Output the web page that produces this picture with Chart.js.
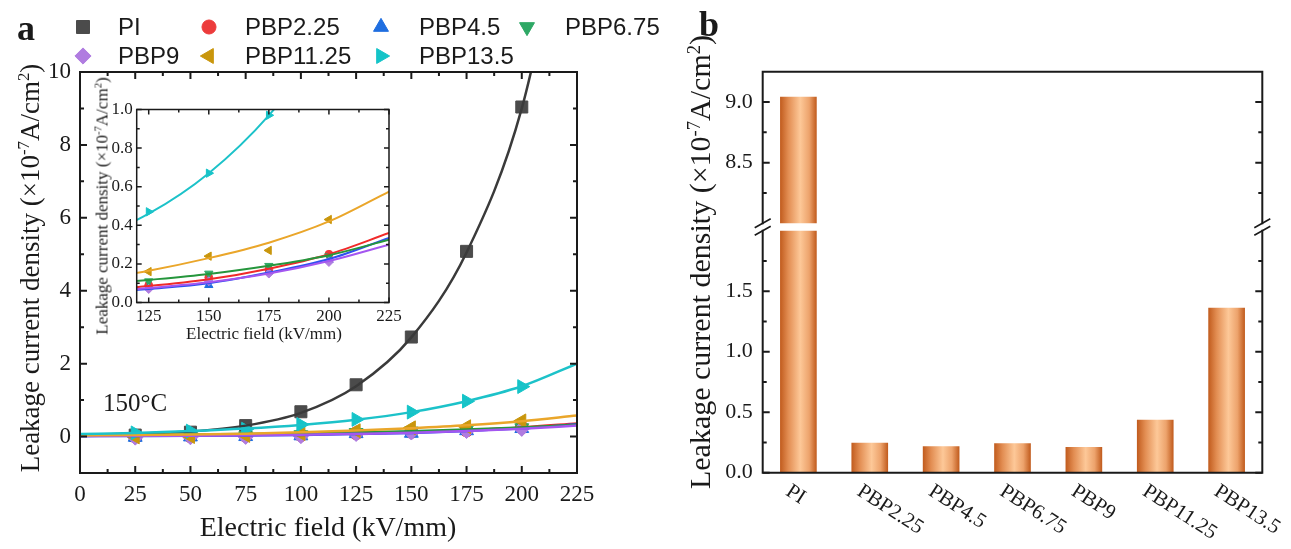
<!DOCTYPE html>
<html>
<head>
<meta charset="utf-8">
<script src="https://cdn.jsdelivr.net/npm/chart.js@4.4.1/dist/chart.umd.min.js"></script>
<style>
  body { margin: 0; background: #fff; }
  #wrap { position: relative; width: 1291px; height: 549px; overflow: hidden;
          font-family: "Liberation Serif", "Times New Roman", serif; color: #1a1a1a; }
  canvas { position: absolute; }
  .txt { position: absolute; white-space: nowrap; line-height: 1; }
  .ctr { transform: translate(-50%, -50%); }
  .rot { transform: translate(-50%, -50%) rotate(-90deg); }
  sup { font-size: 0.62em; vertical-align: 0.55em; line-height: 0; }
</style>
</head>
<body>
<div id="wrap">
  <canvas id="main" width="680" height="549" style="left:0;top:0"></canvas>
  <canvas id="inset" width="330" height="250" style="left:85px;top:95px"></canvas>
  <canvas id="barTop" width="611" height="260" style="left:680px;top:0"></canvas>
  <canvas id="barBottom" width="611" height="359" style="left:680px;top:190px"></canvas>

  <div class="txt" style="left:17px;top:10px;font-size:36px;font-weight:bold">a</div>
  <div class="txt" style="left:699px;top:6px;font-size:36px;font-weight:bold">b</div>

  <div class="txt rot" style="left:30px;top:268px;font-size:27px">Leakage current density (×10<sup>-7</sup>A/cm<sup>2</sup>)</div>
  <div class="txt ctr" style="left:328px;top:527px;font-size:28px">Electric field (kV/mm)</div>
  <div class="txt ctr" style="left:135px;top:402px;font-size:25px">150°C</div>

  <div class="txt rot" style="left:102px;top:206px;font-size:17px">Leakage current density (×10<sup>-7</sup>A/cm<sup>2</sup>)</div>
  <div class="txt ctr" style="left:264px;top:333px;font-size:17px">Electric field (kV/mm)</div>

  <div class="txt rot" style="left:700px;top:262px;font-size:30px">Leakage current density (×10<sup>-7</sup>A/cm<sup>2</sup>)</div>
</div>

<script>
// ---- data (leakage current density, x10^-7 A/cm2, 150 °C) ----
const samples = ['PI', 'PBP2.25', 'PBP4.5', 'PBP6.75', 'PBP9', 'PBP11.25', 'PBP13.5'];
const fieldKV = [25, 50, 75, 100, 125, 150, 175, 200];
const fitKV = [0, 25, 50, 75, 100, 125, 150, 175, 200, 225];

const jPI      = [0.04, 0.12, 0.30, 0.68, 1.42, 2.73, 5.08, 9.04];
const jPBP225  = [0.00, 0.01, 0.02, 0.04, 0.09, 0.13, 0.17, 0.25];
const jPBP45   = [-0.02, -0.01, 0.00, 0.02, 0.08, 0.09, 0.16, 0.22];
const jPBP675  = [0.00, 0.01, 0.02, 0.05, 0.11, 0.15, 0.19, 0.24];
const jPBP9    = [-0.03, -0.02, -0.01, 0.01, 0.07, 0.11, 0.15, 0.21];
const jPBP1125 = [-0.01, 0.00, 0.03, 0.08, 0.16, 0.24, 0.27, 0.43];
const jPBP135  = [0.10, 0.15, 0.20, 0.33, 0.47, 0.67, 0.97, 1.37];

// fitted curves at fitKV
const fitPI      = [0.06, 0.08, 0.14, 0.30, 0.65, 1.38, 2.72, 5.05, 9.00, 16.0];
const fitPBP225  = [0.02, 0.025, 0.03, 0.045, 0.06, 0.085, 0.12, 0.175, 0.25, 0.36];
const fitPBP45   = [0.01, 0.015, 0.02, 0.03, 0.045, 0.07, 0.10, 0.155, 0.225, 0.335];
const fitPBP675  = [0.04, 0.045, 0.055, 0.07, 0.09, 0.117, 0.148, 0.19, 0.245, 0.325];
const fitPBP9    = [0.015, 0.02, 0.025, 0.035, 0.05, 0.075, 0.105, 0.15, 0.215, 0.30];
const fitPBP1125 = [0.03, 0.04, 0.055, 0.08, 0.115, 0.165, 0.23, 0.31, 0.42, 0.575];
const fitPBP135  = [0.07, 0.10, 0.15, 0.22, 0.32, 0.46, 0.67, 0.97, 1.38, 2.00];

// panel b: value at 200 kV/mm
const jAt200 = [9.04, 0.245, 0.215, 0.24, 0.21, 0.435, 1.36];

// tick values
const mainXTicks = [0, 25, 50, 75, 100, 125, 150, 175, 200, 225];
const mainXMinor = [12.5, 37.5, 62.5, 87.5, 112.5, 137.5, 162.5, 187.5, 212.5];
const mainYTicks = [0, 2, 4, 6, 8, 10];
const mainYMinor = [1, 3, 5, 7, 9];
const insetXTicks = [125, 150, 175, 200, 225];
const insetXMinor = [137.5, 162.5, 187.5, 212.5];
const insetYTicks = [0, 0.2, 0.4, 0.6, 0.8, 1.0];
const insetYMinor = [0.1, 0.3, 0.5, 0.7, 0.9];
const barTopTicks = [8.5, 9.0];
const barTopMinor = [8.25, 8.75];
const barBottomTicks = [0, 0.5, 1.0, 1.5];
const barBottomMinor = [0.25, 0.75, 1.25, 1.75];

const measured = [jPI, jPBP225, jPBP45, jPBP675, jPBP9, jPBP1125, jPBP135];
const fitted = [fitPI, fitPBP225, fitPBP45, fitPBP675, fitPBP9, fitPBP1125, fitPBP135];

// ---- styles ----
const markerColors = ['#4b4b4b', '#ec3b3b', '#1f6ee0', '#2ea865', '#b07ce0', '#c9960c', '#14c4c8'];
const lineColors = ['#3a3a3a', '#f02a2a', '#2f50f0', '#25963c', '#a456f0', '#eaa62a', '#1cc2c9'];
const markerShapes = [
  { style: 'rect', rot: 0, r: 8.5 },
  { style: 'circle', rot: 0, r: 6.5 },
  { style: 'triangle', rot: 0, r: 8 },
  { style: 'triangle', rot: 180, r: 8 },
  { style: 'rectRot', rot: 0, r: 7.5 },
  { style: 'triangle', rot: -90, r: 8 },
  { style: 'triangle', rot: 90, r: 8 }
];
const legendMarkX = [83, 209, 381, 527, 83, 209, 381];
const legendTextX = [118, 245, 419, 565, 118, 245, 419];
const legendRowY = [27, 27, 27, 27, 56, 56, 56];

const SERIF = '"Liberation Serif", "Times New Roman", serif';
const INK = '#1a1a1a';
Chart.defaults.font.family = SERIF;
Chart.defaults.color = INK;

// frame with inward ticks, like the origin plots
const framePlugin = {
  id: 'frame',
  afterDatasetsDraw(chart, args, o) {
    const { ctx, chartArea: a } = chart;
    const xs = chart.scales.x, ys = chart.scales.y;
    ctx.save();
    ctx.strokeStyle = INK;
    ctx.lineWidth = o.width;
    ctx.lineCap = 'square';
    ctx.beginPath();
    const edges = o.edges || [];
    if (edges.includes('top')) { ctx.moveTo(a.left, a.top); ctx.lineTo(a.right, a.top); }
    if (edges.includes('bottom')) { ctx.moveTo(a.left, a.bottom); ctx.lineTo(a.right, a.bottom); }
    if (edges.includes('left')) { ctx.moveTo(a.left, a.top); ctx.lineTo(a.left, a.bottom); }
    if (edges.includes('right')) { ctx.moveTo(a.right, a.top); ctx.lineTo(a.right, a.bottom); }
    ctx.stroke();

    ctx.lineCap = 'butt';
    ctx.beginPath();
    const yt = (v, len) => {
      const p = ys.getPixelForValue(v);
      ctx.moveTo(a.left, p); ctx.lineTo(a.left + len, p);
      ctx.moveTo(a.right, p); ctx.lineTo(a.right - len, p);
    };
    const xt = (v, len) => {
      const p = xs.getPixelForValue(v);
      ctx.moveTo(p, a.bottom); ctx.lineTo(p, a.bottom - len);
      ctx.moveTo(p, a.top); ctx.lineTo(p, a.top + len);
    };
    ys.ticks.forEach(t => yt(t.value, o.major));
    (o.yMinor || []).forEach(v => yt(v, o.minor));
    if (o.xTicks) {
      xs.ticks.forEach(t => xt(t.value, o.major));
      (o.xMinor || []).forEach(v => xt(v, o.minor));
    }
    ctx.stroke();

    // axis break marks
    if (o.breakAt) {
      const yb = a.top - o.breakAt;
      ctx.lineWidth = 1.6;
      ctx.beginPath();
      [a.left, a.right].forEach(x => {
        [yb, a.top].forEach(y => {
          ctx.moveTo(x - 8, y + 4.5);
          ctx.lineTo(x + 8, y - 4.5);
        });
      });
      ctx.stroke();
    }
    ctx.restore();
  }
};

const sampleLegend = {
  id: 'sampleLegend',
  afterDraw(chart) {
    const ctx = chart.ctx;
    ctx.save();
    ctx.font = '24px "Liberation Sans", Arial, sans-serif';
    ctx.textBaseline = 'middle';
    ctx.textAlign = 'left';
    samples.forEach((name, i) => {
      const s = markerShapes[i];
      ctx.fillStyle = markerColors[i];
      ctx.strokeStyle = markerColors[i];
      Chart.helpers.drawPoint(ctx, {
        pointStyle: s.style, rotation: s.rot, radius: s.r * 1.08, borderWidth: 1
      }, legendMarkX[i], legendRowY[i]);
      ctx.fillStyle = INK;
      ctx.fillText(name, legendTextX[i], legendRowY[i] + 1);
    });
    ctx.restore();
  }
};

const slantLabels = {
  id: 'slantLabels',
  afterDraw(chart) {
    const { ctx, chartArea: a } = chart;
    const xs = chart.scales.x;
    ctx.save();
    ctx.font = '21px ' + SERIF;
    ctx.fillStyle = INK;
    ctx.textAlign = 'left';
    ctx.textBaseline = 'top';
    chart.data.labels.forEach((t, i) => {
      ctx.save();
      ctx.translate(xs.getPixelForValue(i) - 5, a.bottom + 8);
      ctx.rotate(33 * Math.PI / 180);
      ctx.fillText(t, 0, 0);
      ctx.restore();
    });
    ctx.restore();
  }
};

function seriesSets(lineW, markScale) {
  const lines = [], marks = [];
  samples.forEach((name, i) => {
    const s = markerShapes[i];
    lines.push({
      label: name + ' fit',
      data: fitKV.map((x, k) => ({ x, y: fitted[i][k] })),
      showLine: true,
      borderColor: lineColors[i],
      borderWidth: lineW,
      pointRadius: 0,
      cubicInterpolationMode: 'monotone',
      clip: 0
    });
    marks.push({
      label: name,
      data: fieldKV.map((x, k) => ({ x, y: measured[i][k] })),
      showLine: false,
      pointStyle: s.style,
      pointRotation: s.rot,
      pointRadius: s.r * markScale,
      backgroundColor: markerColors[i],
      borderColor: markerColors[i],
      borderWidth: 1
    });
  });
  return lines.reverse().concat(marks.reverse());
}

function fixedTicks(values) {
  return scale => { scale.ticks = values.map(v => ({ value: v })); };
}

const noGrid = { display: false, drawTicks: false };
const baseOpts = {
  responsive: false,
  animation: false,
  events: [],
  plugins: { legend: { display: false }, tooltip: { enabled: false } }
};

// ---- panel a ----
new Chart(document.getElementById('main'), {
  type: 'scatter',
  data: { datasets: seriesSets(2.5, 1) },
  plugins: [framePlugin, sampleLegend],
  options: {
    ...baseOpts,
    layout: { padding: { left: 0, top: 72, right: 103, bottom: 36 } },
    plugins: {
      ...baseOpts.plugins,
      frame: { width: 2, major: 7, minor: 4, edges: ['top', 'bottom', 'left', 'right'],
               xTicks: true, xMinor: mainXMinor, yMinor: mainYMinor }
    },
    scales: {
      x: {
        type: 'linear', min: 0, max: 225,
        grid: noGrid, border: { display: false },
        afterBuildTicks: fixedTicks(mainXTicks),
        afterFit: s => { s.height = 40; },
        ticks: { font: { size: 23 }, padding: 8, maxRotation: 0, autoSkip: false }
      },
      y: {
        min: -1, max: 10,
        grid: noGrid, border: { display: false },
        afterBuildTicks: fixedTicks(mainYTicks),
        afterFit: s => { s.width = 80; },
        ticks: { font: { size: 23 }, padding: 9 }
      }
    }
  }
});

// ---- inset ----
new Chart(document.getElementById('inset'), {
  type: 'scatter',
  data: { datasets: seriesSets(2, 0.6) },
  plugins: [framePlugin],
  options: {
    ...baseOpts,
    layout: { padding: { left: 0, top: 14.5, right: 26, bottom: 22.5 } },
    plugins: {
      ...baseOpts.plugins,
      frame: { width: 1.5, major: 5, minor: 3, edges: ['top', 'bottom', 'left', 'right'],
               xTicks: true, xMinor: insetXMinor, yMinor: insetYMinor }
    },
    scales: {
      x: {
        type: 'linear', min: 120, max: 225,
        grid: noGrid, border: { display: false },
        afterBuildTicks: fixedTicks(insetXTicks),
        afterFit: s => { s.height = 20; },
        ticks: { font: { size: 17 }, padding: 4, maxRotation: 0, autoSkip: false }
      },
      y: {
        min: 0, max: 1.0,
        grid: noGrid, border: { display: false },
        afterBuildTicks: fixedTicks(insetYTicks),
        afterFit: s => { s.width = 51.7; },
        ticks: { font: { size: 17 }, padding: 4, callback: v => v.toFixed(1) }
      }
    }
  }
});

// ---- panel b (broken axis: two stacked charts) ----
function barFill(c) {
  const xs = c.chart.scales.x;
  const cx = xs && c.dataIndex !== undefined ? xs.getPixelForValue(c.dataIndex) : NaN;
  if (!isFinite(cx)) return '#e9a36b';
  const g = c.chart.ctx.createLinearGradient(cx - 18, 0, cx + 18, 0);
  g.addColorStop(0, '#c25d1f');
  g.addColorStop(0.22, '#e28d52');
  g.addColorStop(0.55, '#fdc898');
  g.addColorStop(0.8, '#eda36c');
  g.addColorStop(1, '#c25d1f');
  return g;
}

function barChart(id, yMin, yMax, ticks, minor, pad, edges, extraPlugins, breakAt) {
  return new Chart(document.getElementById(id), {
    type: 'bar',
    data: {
      labels: samples,
      datasets: [{ data: jAt200, backgroundColor: barFill, borderWidth: 0, barThickness: 36, clip: 0 }]
    },
    plugins: [framePlugin].concat(extraPlugins),
    options: {
      ...baseOpts,
      layout: { padding: pad },
      plugins: {
        ...baseOpts.plugins,
        frame: { width: 2, major: 7, minor: 4, edges, yMinor: minor, breakAt }
      },
      scales: {
        x: { display: false, offset: true },
        y: {
          min: yMin, max: yMax,
          grid: noGrid, border: { display: false },
          afterBuildTicks: fixedTicks(ticks),
          afterFit: s => { s.width = 82.7; },
          ticks: { font: { size: 22 }, padding: 10, callback: v => v.toFixed(1) }
        }
      }
    }
  });
}

// top canvas spans y 0..260, bottom canvas y 190..549 (page px)
barChart('barTop', 8.0, 9.25, barTopTicks, barTopMinor,
  { left: 0, top: 71.7, right: 28.7, bottom: 36.7 }, ['top', 'left', 'right'], [], 0);
barChart('barBottom', 0, 2.0, barBottomTicks, barBottomMinor,
  { left: 0, top: 40.7, right: 28.7, bottom: 76.3 }, ['bottom', 'left', 'right'], [slantLabels], 7.4);
</script>
</body>
</html>
